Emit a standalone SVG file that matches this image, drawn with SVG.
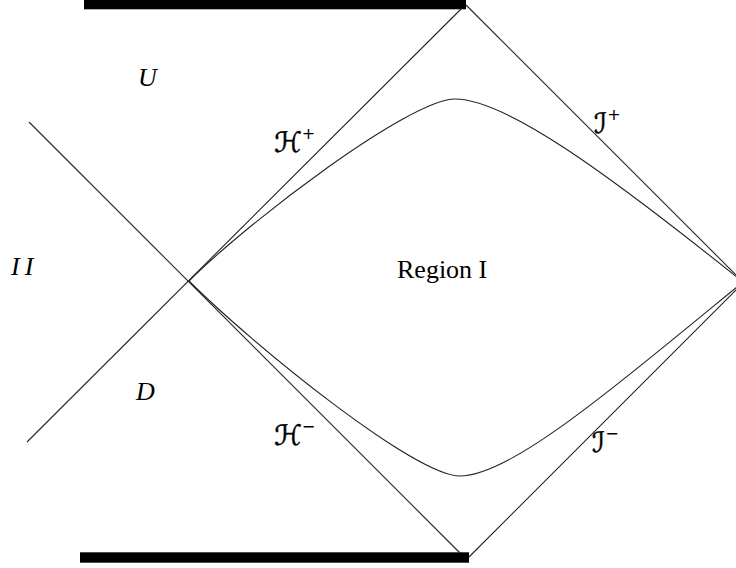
<svg xmlns="http://www.w3.org/2000/svg" width="736" height="568" viewBox="0 0 736 568">
<style>
.ln{stroke:#222;stroke-width:1.1;fill:none}
.bar{fill:#000}
.lbl{font-family:"Liberation Serif","DejaVu Serif",serif;font-size:26px;fill:#000}
.it{font-style:italic}
.cal{font-family:"DejaVu Serif","DejaVu Sans","Liberation Serif",serif;font-size:28px;fill:#000;stroke:#000;stroke-width:0.5}
.sup{font-family:"DejaVu Sans","Liberation Sans",sans-serif;font-size:16px;stroke-width:0}
</style>
<rect width="736" height="568" fill="#fff"/>
<g id="singularities">
<rect class="bar" x="84" y="-2" width="382" height="11.3"/>
<rect class="bar" x="80" y="552.3" width="389" height="10.4"/>
</g>
<g id="connectors">
<line class="ln" x1="27" y1="442" x2="462" y2="8"/>
<line class="ln" x1="29" y1="122" x2="460" y2="553"/>
<line class="ln" x1="466" y1="5" x2="743" y2="282"/>
<line class="ln" x1="469" y1="557" x2="743" y2="283"/>
<path class="ln" d="M189,281 C249,221 410,99 455,99 C505,99 604.25,170.75 743,282"/>
<path class="ln" d="M189,281 C254,346 415,476 460,476 C510,476 605.5,394.5 743,282"/>
</g>
<g id="labels">
<text class="lbl it" x="138" y="86">U</text>
<text class="lbl it" x="136" y="400">D</text>
<text class="lbl it" x="11" y="275" letter-spacing="5">II</text>
<text class="lbl" x="397" y="278">Region I</text>
<text class="cal" x="274" y="152">ℋ<tspan class="sup" dy="-13">+</tspan></text>
<text class="cal" x="274" y="445">ℋ<tspan class="sup" dy="-13">−</tspan></text>
<text class="cal" x="594" y="133">ℐ<tspan class="sup" dy="-13">+</tspan></text>
<text class="cal" x="592" y="452">ℐ<tspan class="sup" dy="-13">−</tspan></text>
</g>
</svg>
